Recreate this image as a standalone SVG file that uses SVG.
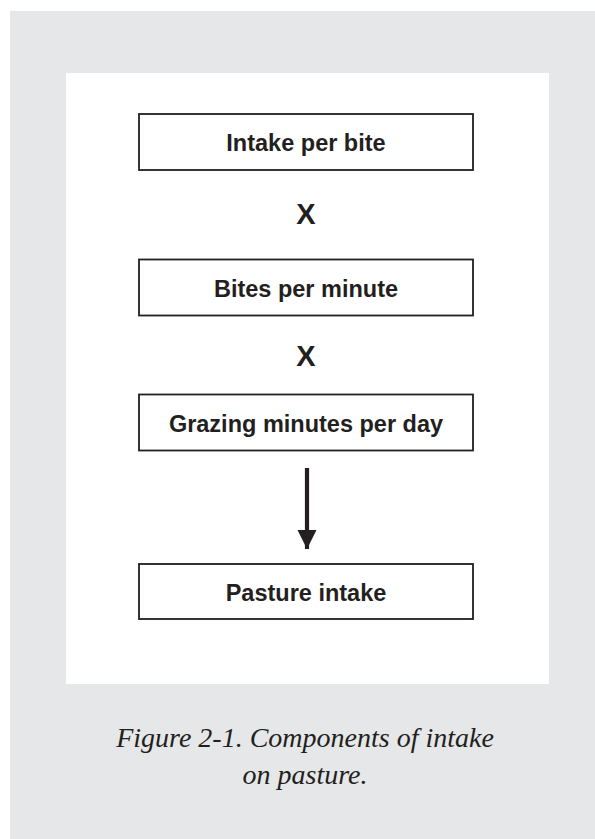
<svg xmlns="http://www.w3.org/2000/svg" width="595" height="839" viewBox="0 0 595 839">
  <style>
    .box { fill: #ffffff; stroke: #231f20; stroke-width: 1.8; }
    .lbl { font-family: "Liberation Sans", Arial, sans-serif; font-weight: bold; font-size: 23.5px; fill: #231f20; text-anchor: middle; }
    .op { font-family: "Liberation Sans", Arial, sans-serif; font-weight: bold; font-size: 29px; fill: #231f20; text-anchor: middle; }
    .cap { font-family: "Liberation Serif", "Times New Roman", serif; font-style: italic; font-size: 28px; fill: #231f20; text-anchor: middle; }
  </style>
  <defs>
    <marker id="arrowhead" markerUnits="userSpaceOnUse" markerWidth="19" markerHeight="23" refX="19" refY="9.5" orient="auto">
      <path d="M0,0 L19,9.5 L0,19 Z" fill="#231f20"/>
    </marker>
  </defs>
  <rect x="10" y="11" width="585" height="828" fill="#e6e7e8"/>
  <rect x="66" y="73" width="483" height="611" fill="#ffffff"/>

  <g id="node-intake-per-bite">
    <rect class="box" x="139" y="114" width="334" height="56"/>
    <text class="lbl" x="306" y="151">Intake per bite</text>
  </g>
  <g id="op-times-1">
    <text class="op" x="306" y="223.5">X</text>
  </g>
  <g id="node-bites-per-minute">
    <rect class="box" x="139" y="259.5" width="334" height="56"/>
    <text class="lbl" x="306" y="296.5">Bites per minute</text>
  </g>
  <g id="op-times-2">
    <text class="op" x="306" y="365.5">X</text>
  </g>
  <g id="node-grazing-minutes">
    <rect class="box" x="139" y="394.5" width="334" height="56"/>
    <text class="lbl" x="306" y="431.5">Grazing minutes per day</text>
  </g>
  <g id="node-pasture-intake">
    <rect class="box" x="139" y="564" width="334" height="55"/>
    <text class="lbl" x="306" y="601">Pasture intake</text>
  </g>

  <g id="connectors">
    <line x1="307" y1="468" x2="307" y2="549" stroke="#231f20" stroke-width="4.2" marker-end="url(#arrowhead)"/>
  </g>

  <g id="caption">
    <text class="cap" x="305" y="747">Figure 2-1. Components of intake</text>
    <text class="cap" x="305" y="783.5">on pasture.</text>
  </g>
</svg>
